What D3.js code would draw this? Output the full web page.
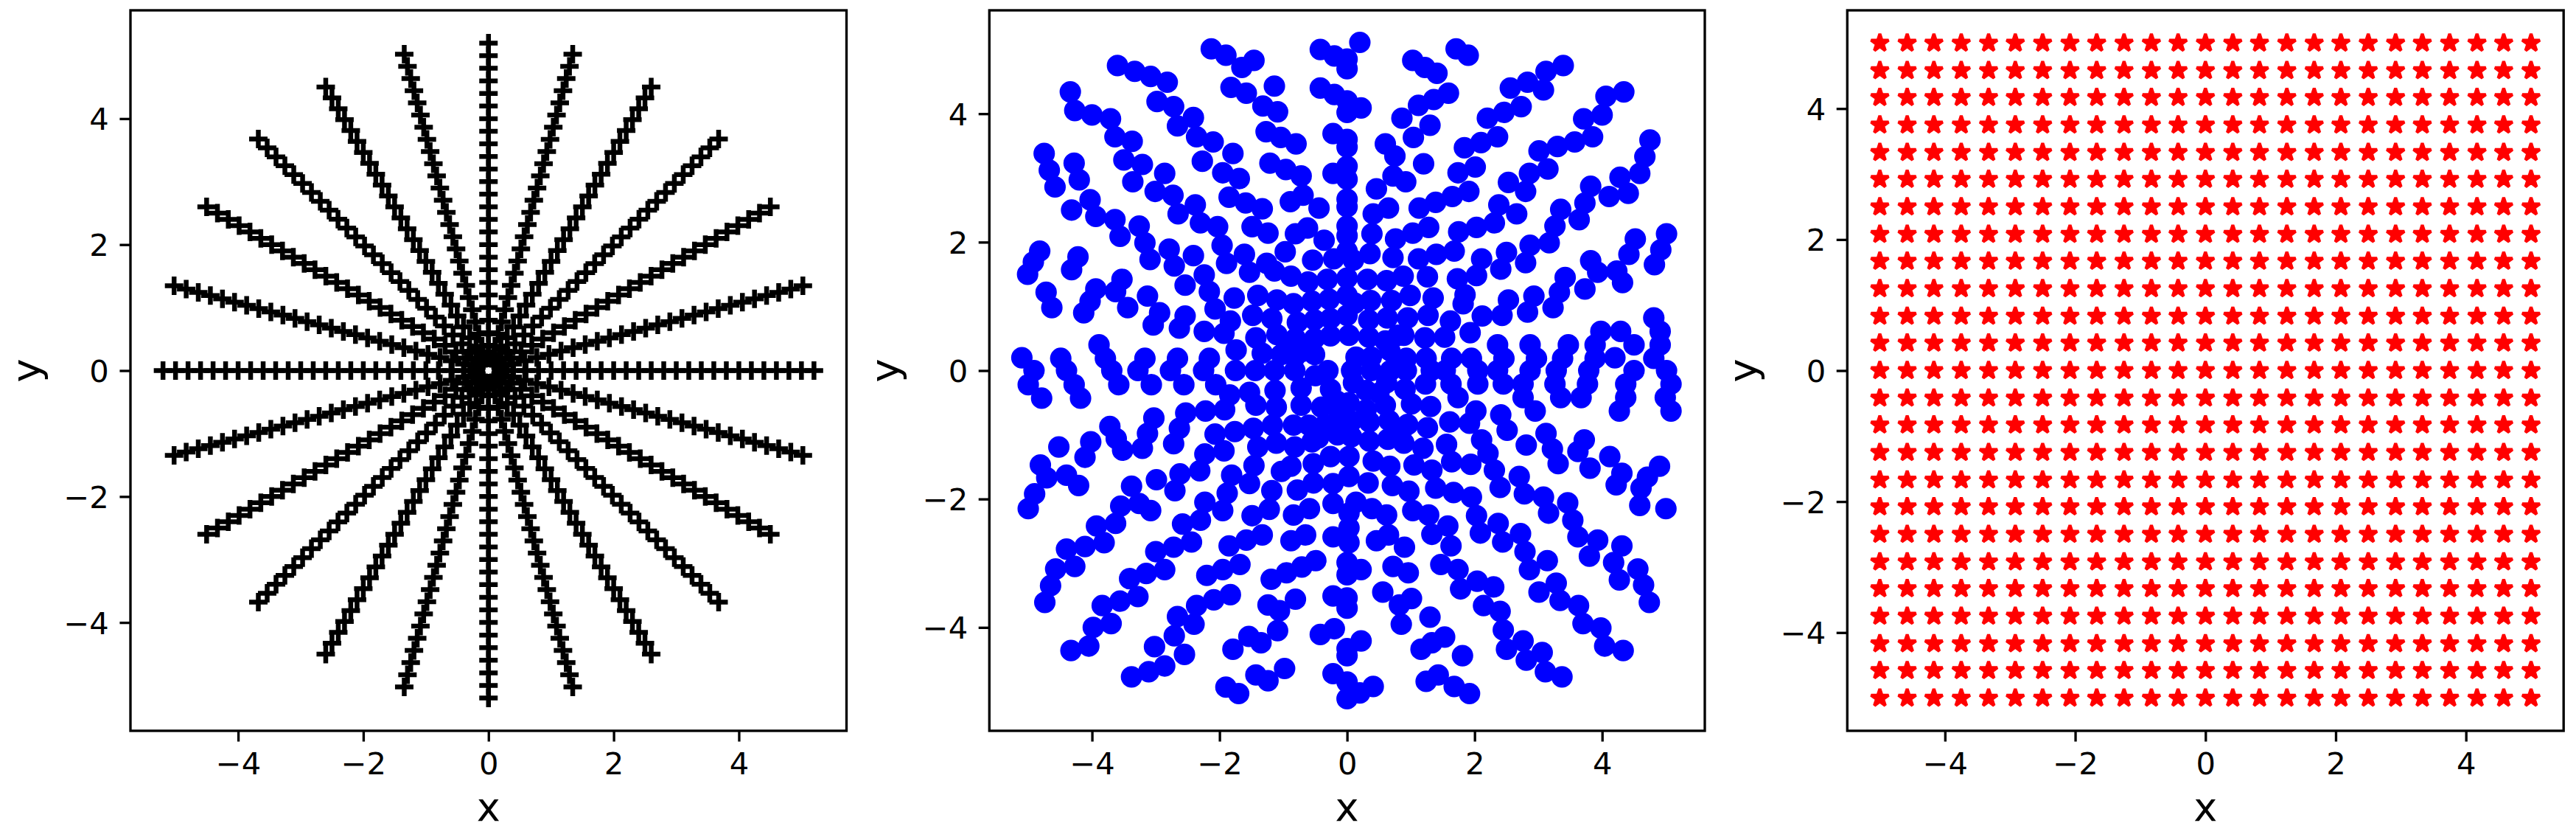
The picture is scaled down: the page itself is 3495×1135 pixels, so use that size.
<!DOCTYPE html>
<html>
<head>
<meta charset="utf-8">
<script src="https://cdnjs.cloudflare.com/ajax/libs/d3/7.8.5/d3.min.js"></script>
<style>
body { margin: 0; background: #fff; }
text { font-family: "DejaVu Sans", sans-serif; }
</style>
</head>
<body>
<svg id="chart" width="3495" height="1135"></svg>
<script>
(function() {

// ---- data -------------------------------------------------------------

// left panel: polar grid, one ray per angle (degrees), one point per radius
var rayAngles = [0, 15, 30, 45, 60, 75, 90, 105, 120, 135, 150, 165,
                 180, 195, 210, 225, 240, 255, 270, 285, 300, 315, 330, 345];
var rayRadii  = [0.2, 0.4, 0.6, 0.8, 1.0, 1.2, 1.4, 1.6, 1.8, 2.0, 2.2, 2.4, 2.6,
                 2.8, 3.0, 3.2, 3.4, 3.6, 3.8, 4.0, 4.2, 4.4, 4.6, 4.8, 5.0, 5.2];

// middle panel: blue points
var bluePoints = [
  [-2.13,5.01],[-1.90,4.91],[-1.65,4.72],[-1.46,4.83],[-0.42,5.00],[-0.20,4.90],
  [-3.60,4.75],[-3.33,4.66],[-3.08,4.58],[-2.82,4.49],
  [-4.34,4.34],[-4.27,4.05],[-4.00,3.98],[-3.71,3.92],[-3.64,3.64],[-3.37,3.57],
  [-2.98,4.19],[-2.72,4.11],[-2.41,3.94],[-2.66,3.81],[-2.36,3.64],[-2.10,3.56],
  [-1.82,4.41],[-1.58,4.32],[-1.14,4.43],[-1.32,4.12],[-1.09,4.03],
  [-0.42,4.40],[-0.20,4.30],
  [-1.27,3.72],[-1.04,3.63],[-0.80,3.53],[-0.22,3.69],
  [-4.75,3.38],[-4.67,3.12],[-4.58,2.86],[-4.28,3.23],[-4.20,2.97],
  [-3.50,3.28],[-3.21,3.21],[-3.36,2.94],[-2.86,3.07],[-3.01,2.79],[-2.73,2.73],
  [-2.27,3.26],[-1.79,3.38],[-1.95,3.08],[-1.69,2.99],
  [-1.21,3.23],[-0.96,3.13],[-0.72,3.03],[-0.22,3.07],
  [-4.32,2.50],[-4.03,2.66],[-3.94,2.40],[-3.64,2.35],[-3.56,2.09],[-3.26,2.25],[-3.17,1.99],
  [-2.38,2.58],[-2.65,2.44],[-2.30,2.30],[-2.03,2.24],
  [-1.85,2.70],[-1.59,2.61],[-1.33,2.52],[-0.89,2.63],[-0.69,2.73],[-0.44,2.53],
  [-1.49,2.24],[-1.24,2.14],[-0.81,2.13],[-0.62,2.22],[-0.36,2.03],
  [-4.82,1.86],[-4.92,1.69],[-5.01,1.50],[-4.22,1.77],[-4.32,1.57],
  [-2.79,1.89],[-3.09,1.73],[-2.71,1.63],[-2.41,1.79],[-1.96,1.95],[-1.89,1.67],[-1.61,1.81],[-1.53,1.53],
  [-0.97,1.85],[-1.26,1.67],[-1.14,1.55],[-0.88,1.47],[-0.54,1.72],[-0.21,1.74],
  [-0.61,1.38],[-0.31,1.42],
  [-4.72,1.22],[-4.63,0.98],[-3.94,1.27],[-4.03,1.08],[-4.13,0.90],[-3.53,1.42],[-3.63,1.23],[-3.13,1.16],[-3.44,0.98],
  [-2.54,1.33],[-2.24,1.49],[-2.16,1.23],[-2.07,0.96],[-2.94,0.90],[-3.04,0.71],[-2.54,0.85],[-2.63,0.66],[-2.24,0.61],
  [-1.77,1.13],[-1.40,1.17],[-1.10,1.10],[-0.84,1.04],[-0.55,1.08],[-0.28,1.11],
  [-1.83,0.77],[-1.93,0.58],[-1.48,0.86],[-1.18,0.81],[-0.78,0.75],[-0.51,0.79],[-0.26,0.81],
  [-1.74,0.32],[-1.43,0.51],[-1.33,0.27],[-1.10,0.56],[-0.81,0.50],[-0.51,0.50],[-0.26,0.54],
  [-5.10,0.20],[-4.91,0.00],[-4.49,0.19],[-4.40,0.00],[-3.89,0.40],[-3.79,0.19],[-3.69,0.00],
  [-3.17,0.19],[-3.28,0.00],[-2.66,0.19],[-2.77,0.00],[-2.16,0.19],[-2.25,0.00],[-1.75,0.00],[-1.44,0.00],
  [-1.03,0.25],[-0.82,0.21],[-1.14,0.00],[-0.82,0.00],[-0.51,0.25],[-0.30,0.00],
  [0.00,4.85],[0.00,4.70],[0.20,5.11],[0.00,4.20],[0.00,4.02],[0.22,4.09],[0.00,3.60],[0.00,3.48],
  [0.00,3.18],[0.00,2.98],[0.00,2.67],[0.00,2.55],[0.00,2.25],[0.00,2.10],[0.00,1.86],[0.10,1.72],
  [0.00,1.44],[0.00,1.17],[0.00,0.86],
  [1.03,4.83],[1.22,4.72],[1.41,4.63],[1.71,5.01],[1.90,4.91],
  [0.86,3.93],[1.12,4.13],[1.36,4.22],[1.59,4.32],[1.30,3.82],[1.04,3.63],[0.60,3.53],[0.75,3.34],
  [1.20,3.22],[0.72,3.03],[0.92,2.94],[0.46,2.83],
  [0.41,2.44],[0.65,2.53],[0.39,2.13],[1.13,2.53],[1.39,2.62],[1.65,2.71],[1.91,2.79],[1.74,3.08],
  [2.01,3.17],[1.84,3.47],[2.10,3.55],[2.36,3.64],
  [2.20,3.93],[2.46,4.02],[2.73,4.11],[2.56,4.40],[2.83,4.49],[3.08,4.37],[3.12,4.66],[3.39,4.75],
  [4.06,4.27],[4.34,4.34],
  [3.71,3.92],[4.00,3.98],[3.85,3.64],[3.57,3.56],[3.30,3.49],[3.01,3.42],[3.15,3.14],[2.86,3.07],
  [2.53,2.93],[2.80,2.79],[2.38,2.58],[2.66,2.44],[2.31,2.30],[2.03,2.23],[1.75,2.16],[1.28,2.23],
  [1.03,2.14],[0.76,2.05],
  [4.75,3.59],[4.67,3.33],[4.59,3.07],[4.28,3.01],[4.41,2.76],[4.11,2.71],[3.82,2.87],[3.73,2.61],
  [3.64,2.35],[3.35,2.51],[3.26,2.25],[3.17,1.99],[2.87,1.95],[2.80,1.68],[2.50,1.84],[2.41,1.58],
  [2.11,1.74],[2.03,1.48],[1.73,1.43],[1.85,1.18],[1.82,1.04],
  [1.68,1.86],[1.40,1.81],[1.12,1.74],[0.72,1.76],[0.36,1.82],
  [1.26,1.46],[0.88,1.47],[0.62,1.40],[0.32,1.42],[1.35,1.13],[0.99,1.17],[0.70,1.09],[0.37,1.09],
  [0.63,0.82],[0.95,0.82],[1.27,0.86],[1.62,0.77],[1.53,0.52],[1.93,0.59],[1.22,0.51],[0.89,0.55],
  [0.60,0.46],[0.34,0.52],[0.34,0.79],
  [2.12,0.85],[2.43,0.86],[2.53,1.10],[2.83,0.91],[2.93,1.16],[3.23,0.98],[3.33,1.22],[3.42,1.45],
  [3.73,1.27],[3.82,1.71],[3.93,1.53],[4.23,1.55],[4.32,1.37],[4.42,1.81],[4.52,2.05],[5.01,2.13],
  [4.92,1.88],[4.82,1.65],
  [4.81,0.82],[4.91,0.61],[4.91,0.40],[4.81,0.19],[5.01,0.00],
  [3.98,0.61],[4.29,0.61],[4.50,0.40],[3.89,0.40],[3.89,0.19],[4.20,0.20],[4.50,0.00],[3.79,0.00],
  [3.47,0.40],[3.38,0.19],[3.28,0.00],[2.87,0.40],[2.97,0.19],[2.87,0.00],[2.36,0.40],[2.46,0.19],
  [2.36,0.00],[1.95,0.19],[2.05,0.00],[1.64,0.19],[1.54,0.00],[1.24,0.19],[1.32,0.00],[0.93,0.19],
  [0.93,0.00],[0.67,0.31],[0.68,0.00],[0.38,0.21],[0.14,0.21],[0.07,0.00],[0.38,0.00],
  [-5.00,-0.22],[-4.79,-0.43],[-4.28,-0.22],[-4.18,-0.43],[-3.58,-0.22],[-3.07,-0.22],[-2.56,-0.22],[-2.06,-0.22],
  [-1.84,-0.38],[-1.53,-0.34],[-1.43,-0.54],[-1.13,-0.31],[-1.11,-0.57],[-0.72,-0.27],[-0.26,-0.29],
  [-0.40,-0.57],[-0.72,-0.54],
  [-1.92,-0.61],[-2.22,-0.63],[-2.53,-0.66],[-3.03,-0.74],[-3.13,-0.98],[-3.21,-1.21],[-3.72,-0.87],
  [-3.62,-1.06],[-3.52,-1.24],
  [-4.02,-1.11],[-4.11,-1.35],[-4.52,-1.19],[-4.81,-1.47],[-4.71,-1.67],[-4.40,-1.63],[-4.21,-1.79],
  [-4.90,-1.92],[-5.00,-2.15],
  [-2.63,-0.90],[-2.72,-1.14],[-2.07,-0.99],[-1.76,-0.95],[-1.47,-0.90],[-1.17,-0.85],[-0.84,-0.85],
  [-1.93,-1.25],[-2.23,-1.30],[-2.31,-1.56],[-2.62,-1.61],[-2.70,-1.87],[-2.99,-1.70],[-3.38,-1.80],
  [-3.26,-2.07],[-3.08,-2.18],[-3.55,-2.11],[-3.63,-2.38],[-3.93,-2.42],[-3.81,-2.68],[-4.11,-2.74],
  [-4.40,-2.78],[-4.27,-3.05],[-4.57,-3.09],[-4.65,-3.35],[-4.74,-3.61],
  [-1.40,-1.19],[-1.11,-1.13],[-0.82,-1.19],[-0.55,-1.11],
  [-1.46,-1.48],[-1.53,-1.76],[-1.81,-1.63],[-1.88,-1.91],[-1.95,-2.18],[-2.23,-2.05],[-2.30,-2.33],
  [-2.58,-2.39],[-2.44,-2.67],[-2.72,-2.75],[-3.00,-2.82],[-2.86,-3.10],[-3.15,-3.16],[-3.41,-3.24],
  [-3.28,-3.52],[-3.56,-3.59],[-3.84,-3.66],[-3.70,-3.94],[-3.98,-4.00],[-4.05,-4.29],[-4.33,-4.36],
  [-1.18,-1.87],[-1.03,-1.57],[-0.88,-1.49],[-0.53,-1.45],[-0.78,-1.86],[-0.53,-1.75],[-0.22,-1.76],
  [-0.26,-1.34],
  [-1.22,-2.16],[-1.49,-2.26],[-0.84,-2.25],[-0.59,-2.15],[-0.22,-2.07],
  [-1.33,-2.56],[-1.58,-2.64],[-1.85,-2.73],[-1.68,-3.02],[-1.95,-3.10],[-2.20,-3.19],[-1.83,-3.49],
  [-2.09,-3.57],[-2.36,-3.66],[-2.66,-3.83],[-2.40,-3.95],[-2.71,-4.13],[-3.02,-4.30],[-2.55,-4.42],
  [-2.86,-4.60],[-3.11,-4.69],[-3.38,-4.77],
  [-0.88,-2.65],[-0.65,-2.56],[-0.22,-2.59],[-1.19,-3.25],[-0.95,-3.15],[-0.71,-3.06],[-0.49,-2.96],
  [-0.22,-3.51],[-0.81,-3.56],[-1.24,-3.65],[-1.06,-3.74],[-1.09,-4.05],[-1.54,-4.14],[-1.35,-4.24],
  [-1.79,-4.34],[-0.42,-4.11],[-0.20,-4.02],
  [-0.98,-4.64],[-1.43,-4.74],[-1.24,-4.83],[-1.90,-4.93],[-1.70,-5.03],[-0.22,-4.72],
  [0.00,-4.85],[0.00,-5.11],[0.00,-4.33],[0.00,-4.44],[0.00,-3.70],[0.00,-3.54],[0.00,-2.99],[0.00,-3.18],
  [0.03,-2.22],[0.03,-2.45],[0.03,-2.68],[0.03,-1.65],[0.03,-1.34],[0.07,-1.03],
  [5.08,-0.63],[4.99,-0.42],[5.08,-0.21],[4.27,-0.63],[4.37,-0.42],[4.37,-0.21],[3.67,-0.42],[3.77,-0.21],
  [3.35,-0.42],[3.26,-0.21],[2.95,-0.63],[2.76,-0.42],[2.76,-0.21],[2.45,-0.21],[2.05,-0.21],[1.74,-0.42],
  [1.63,-0.21],[1.23,-0.21],[1.31,-0.56],[1.01,-0.52],[0.91,-0.29],[0.60,-0.54],[0.62,-0.19],[0.30,-0.31],
  [0.10,-0.19],[0.03,-0.50],[0.30,-0.61],
  [2.02,-0.63],[1.92,-0.82],[1.61,-0.80],[1.26,-0.89],[0.95,-0.84],[0.66,-0.78],[0.35,-0.80],[0.07,-0.79],
  [2.41,-0.69],[2.51,-0.93],[2.11,-1.08],[2.21,-1.29],[2.31,-1.55],[2.40,-1.82],[1.56,-1.15],[1.64,-1.42],
  [1.94,-1.46],[1.19,-1.21],[0.89,-1.13],[0.35,-1.10],[0.64,-1.07],
  [0.41,-1.41],[0.67,-1.49],[1.05,-1.47],[1.33,-1.55],[0.33,-1.75],[0.71,-1.79],[0.97,-1.88],[1.39,-1.83],
  [1.67,-1.90],[1.95,-1.97],
  [2.70,-1.65],[2.78,-1.92],[3.08,-1.97],[3.16,-2.22],[2.81,-1.16],[3.12,-0.98],[3.22,-1.22],[3.31,-1.45],
  [3.72,-1.08],[3.62,-1.26],[3.81,-1.52],[4.12,-1.34],[4.31,-1.60],[4.22,-1.78],[4.90,-1.49],[4.71,-1.66],
  [4.61,-1.83],[4.59,-2.10],[5.00,-2.15],
  [3.46,-2.06],[3.54,-2.33],[3.62,-2.59],[3.93,-2.64],[3.80,-2.89],[4.31,-2.73],[4.18,-2.99],[4.27,-3.26],
  [4.56,-3.09],[4.65,-3.34],[4.74,-3.61],
  [2.03,-2.26],[2.09,-2.53],[2.37,-2.38],[2.44,-2.67],[2.72,-2.54],[2.79,-2.82],[2.86,-3.10],[3.14,-2.96],
  [3.28,-3.31],[3.01,-3.45],[3.34,-3.58],[3.63,-3.66],[3.70,-3.94],[3.98,-4.01],[4.04,-4.29],[4.33,-4.36],
  [1.03,-2.18],[1.28,-2.25],[1.58,-2.42],[1.33,-2.55],[1.63,-2.73],[0.62,-2.25],[0.39,-2.15],[0.14,-2.05],
  [0.65,-2.56],[0.46,-2.65],[0.90,-2.75],
  [0.22,-3.10],[0.72,-3.05],[0.96,-3.15],[1.47,-3.02],[1.74,-3.10],[2.04,-3.28],[2.30,-3.37],[1.78,-3.40],
  [2.14,-3.66],[2.40,-3.75],[2.45,-4.04],[2.76,-4.21],[2.50,-4.34],[3.06,-4.39],[2.81,-4.51],[3.11,-4.69],
  [3.37,-4.77],
  [0.56,-3.45],[1.01,-3.55],[0.82,-3.65],[0.85,-3.95],[1.30,-3.84],[1.53,-4.15],[1.33,-4.24],[1.16,-4.34],
  [1.81,-4.44],[0.22,-4.21],
  [0.41,-4.92],[0.20,-5.02],[1.43,-4.74],[1.24,-4.84],[1.68,-4.92],[1.92,-5.03],
  [0.03,0.55],[-0.70,0.30],[-0.60,-0.85],[-0.35,-0.85],[-0.12,-0.72],[-0.15,-0.48],[-0.50,-0.08],
  [0.50,-0.35],[0.80,0.55],[0.85,0.15],[-0.95,0.35],[-0.15,-1.00],[-0.45,-1.05],[0.12,1.05],[0.85,-0.95]
];

// right panel: regular grid of red stars
var gridX = [-5.00, -4.58, -4.17, -3.75, -3.33, -2.92, -2.50, -2.08, -1.67, -1.25, -0.83, -0.42, 0.00,
              0.42,  0.83,  1.25,  1.67,  2.08,  2.50,  2.92,  3.33,  3.75,  4.17,  4.58,  5.00];
var gridY = [-5.00, -4.58, -4.17, -3.75, -3.33, -2.92, -2.50, -2.08, -1.67, -1.25, -0.83, -0.42, 0.00,
              0.42,  0.83,  1.25,  1.67,  2.08,  2.50,  2.92,  3.33,  3.75,  4.17,  4.58,  5.00];

var tickValues = [-4, -2, 0, 2, 4];


// ---- layout -----------------------------------------------------------

var frameTop    = 14,
    frameBottom = 991;

// 300 dpi: 1pt = 4.17px
var pt = 300 / 72;
var tickLen   = 3.5 * pt,
    tickPad   = 3.5 * pt,
    lineW     = 0.8 * pt,
    tickFont  = 10 * pt,
    labelFont = 13 * pt,
    markR     = 3 * pt,      // markersize 6 -> half of it
    markEdge  = 1 * pt,
    plusEdge  = 6.5;         // the '+' strokes are drawn heavier

var svg = d3.select("#chart");

svg.append("rect")
   .attr("width", 3495)
   .attr("height", 1135)
   .attr("fill", "#fff");


/**
 * Build the two scales of one panel.
 */
var makeScales = function(left, right, lim) {
    return {
        x: d3.scaleLinear().domain([-lim, lim]).range([left, right]),
        y: d3.scaleLinear().domain([-lim, lim]).range([frameBottom, frameTop])
    };
};


/**
 * Ticks, tick labels, frame and axis titles for one panel.
 */
var drawAxes = function(s) {
    var left  = s.x.range()[0],
        right = s.x.range()[1];

    var xAxis = svg.append("g")
                   .attr("transform", "translate(0," + frameBottom + ")")
                   .call(d3.axisBottom(s.x)
                           .tickValues(tickValues)
                           .tickSize(tickLen)
                           .tickPadding(tickPad));
    var yAxis = svg.append("g")
                   .attr("transform", "translate(" + left + ",0)")
                   .call(d3.axisLeft(s.y)
                           .tickValues(tickValues)
                           .tickSize(tickLen)
                           .tickPadding(tickPad));

    [xAxis, yAxis].forEach(function(g) {
        g.select(".domain").remove();
        g.selectAll(".tick line")
         .attr("stroke", "#000")
         .attr("stroke-width", lineW);
        g.selectAll(".tick text")
         .attr("fill", "#000")
         .style("font-family", "'DejaVu Sans', sans-serif")
         .style("font-size", tickFont + "px");
    });
    yAxis.selectAll(".tick text").attr("dy", "0.36em");

    svg.append("rect")
       .attr("x", left)
       .attr("y", frameTop)
       .attr("width", right - left)
       .attr("height", frameBottom - frameTop)
       .attr("fill", "none")
       .attr("stroke", "#000")
       .attr("stroke-width", lineW);

    svg.append("text")
       .text("x")
       .attr("x", (left + right) / 2)
       .attr("y", 1113)
       .attr("text-anchor", "middle")
       .style("font-size", labelFont + "px");

    svg.append("text")
       .text("y")
       .attr("transform", "translate(" + (left - 123) + "," + ((frameTop + frameBottom) / 2) + ") rotate(-90)")
       .attr("text-anchor", "middle")
       .style("font-size", labelFont + "px");
};


// ---- left panel: '+' markers on rays ----------------------------------

var s1 = makeScales(177, 1148.5, 5.72);
var rayPoints = [];
rayAngles.forEach(function(a) {
    rayRadii.forEach(function(r) {
        var t = a * Math.PI / 180;
        rayPoints.push([r * Math.cos(t), r * Math.sin(t)]);
    });
});

svg.append("g")
   .selectAll("path")
   .data(rayPoints)
   .enter().append("path")
   .attr("d", "M" + (-markR) + ",0H" + markR + "M0," + (-markR) + "V" + markR)
   .attr("transform", function(d) {
       return "translate(" + s1.x(d[0]) + "," + s1.y(d[1]) + ")";
   })
   .attr("fill", "none")
   .attr("stroke", "#000")
   .attr("stroke-width", plusEdge);
drawAxes(s1);


// ---- middle panel: blue dots ------------------------------------------

var s2 = makeScales(1342.3, 2313, 5.61);
svg.append("g")
   .selectAll("circle")
   .data(bluePoints)
   .enter().append("circle")
   .attr("cx", function(d) { return s2.x(d[0]); })
   .attr("cy", function(d) { return s2.y(d[1]); })
   .attr("r", markR)
   .attr("fill", "#0000ff")
   .attr("stroke", "#0000ff")
   .attr("stroke-width", markEdge);
drawAxes(s2);


// ---- right panel: red stars -------------------------------------------

var starPath = function(R) {
    var pts = [];
    for (var k = 0; k < 10; k++) {
        var rad = (k % 2 === 0) ? R : R * 0.381966;
        var t = -Math.PI / 2 + k * Math.PI / 5;
        pts.push([rad * Math.cos(t), rad * Math.sin(t)]);
    }
    return "M" + pts.map(function(p) { return p[0].toFixed(2) + "," + p[1].toFixed(2); }).join("L") + "Z";
};

var s3 = makeScales(2506.3, 3478.2, 5.5);
var starPoints = [];
gridY.forEach(function(y) {
    gridX.forEach(function(x) { starPoints.push([x, y]); });
});

svg.append("g")
   .selectAll("path")
   .data(starPoints)
   .enter().append("path")
   .attr("d", starPath(markR))
   .attr("transform", function(d) {
       return "translate(" + s3.x(d[0]) + "," + s3.y(d[1]) + ")";
   })
   .attr("fill", "#ff0000")
   .attr("stroke", "#ff0000")
   .attr("stroke-width", markEdge)
   .attr("stroke-linejoin", "bevel");
drawAxes(s3);

})();
</script>
</body>
</html>
